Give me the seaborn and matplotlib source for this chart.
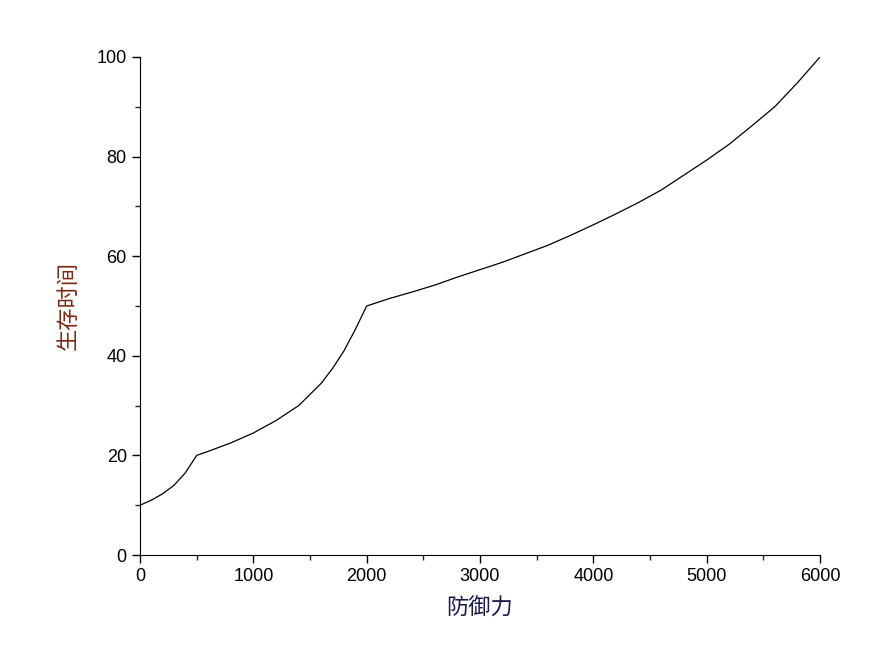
import matplotlib
matplotlib.use("Agg")
import matplotlib.pyplot as plt
import seaborn as sns
import pandas as pd
from matplotlib.ticker import MultipleLocator

defense = [0, 100, 200, 300, 400, 500, 600, 800, 1000, 1200, 1400, 1600, 1700, 1800, 1900, 2000,
           2200, 2400, 2600, 2800, 3000, 3200, 3400, 3600, 3800, 4000, 4200, 4400,
           4600, 4800, 5000, 5200, 5400, 5600, 5800, 6000]
survival = [10, 11, 12.3, 14, 16.5, 20, 20.8, 22.5, 24.5, 27, 30, 34.5, 37.5, 41, 45.3, 50,
            51.5, 52.8, 54.2, 55.8, 57.3, 58.8, 60.5, 62.2, 64.2, 66.3, 68.5, 70.8,
            73.3, 76.3, 79.3, 82.5, 86.2, 90, 94.8, 100]

sns.set_style("ticks")
plt.rcParams['font.family'] = ['Liberation Sans', 'Noto Sans CJK SC', 'DejaVu Sans']

fig = plt.figure(figsize=(8.87, 6.61), dpi=100)
ax = fig.add_axes([140/887, 1-555/661, 680/887, 498/661])
df = pd.DataFrame({"x": defense, "y": survival})
sns.lineplot(data=df, x="x", y="y", ax=ax, color="black", linewidth=0.9)
ax.set_xlim(0, 6000)
ax.set_ylim(0, 100)
ax.xaxis.set_major_locator(MultipleLocator(1000))
ax.xaxis.set_minor_locator(MultipleLocator(500))
ax.yaxis.set_major_locator(MultipleLocator(20))
ax.yaxis.set_minor_locator(MultipleLocator(10))
ax.tick_params(which="major", direction="out", length=6, width=1, labelsize=13, colors="black")
ax.tick_params(which="minor", direction="out", length=3.5, width=1)
for s in ["top", "right"]:
    ax.spines[s].set_visible(False)
for s in ["left", "bottom"]:
    ax.spines[s].set_color("black")
ax.set_xlabel("防御力", fontsize=16, color="#1a1a50", family=['Noto Sans CJK SC'], labelpad=8)
ax.set_ylabel("生存时间", fontsize=16, color="#7a2a10", family=['Noto Sans CJK SC'], labelpad=12)
fig.savefig("out.png", dpi=100)
